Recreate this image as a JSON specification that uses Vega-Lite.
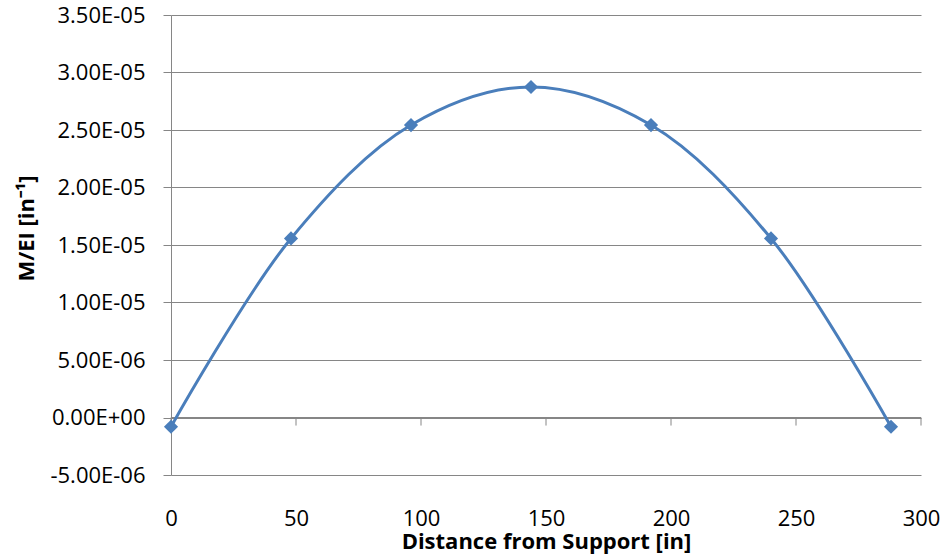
{
  "$schema": "https://vega.github.io/schema/vega-lite/v6.json",
  "width": 750,
  "height": 460,
  "autosize": {"type": "none"},
  "padding": {"left": 171, "top": 15, "right": 27, "bottom": 84},
  "background": "white",
  "config": {
    "view": {"stroke": null},
    "font": "Open Sans"
  },
  "data": {
    "values": [
      {"x": 0, "y": -0.0000008},
      {"x": 48, "y": 0.00001557},
      {"x": 96, "y": 0.00002543},
      {"x": 144, "y": 0.00002874},
      {"x": 192, "y": 0.00002543},
      {"x": 240, "y": 0.00001557},
      {"x": 288, "y": -0.0000008}
    ]
  },
  "layer": [
    {
      "data": {"values": [{"x": 0, "x2": 300, "y": 0}]},
      "mark": {"type": "rule", "color": "#868686", "strokeWidth": 1},
      "encoding": {
        "x": {"field": "x", "type": "quantitative"},
        "x2": {"field": "x2"},
        "y": {"field": "y", "type": "quantitative"}
      }
    },
    {
      "data": {"values": [
        {"x": 0, "y": 0, "y2": -0.0000007},
        {"x": 50, "y": 0, "y2": -0.0000007},
        {"x": 100, "y": 0, "y2": -0.0000007},
        {"x": 150, "y": 0, "y2": -0.0000007},
        {"x": 200, "y": 0, "y2": -0.0000007},
        {"x": 250, "y": 0, "y2": -0.0000007},
        {"x": 300, "y": 0, "y2": -0.0000007}
      ]},
      "mark": {"type": "rule", "color": "#868686", "strokeWidth": 1},
      "encoding": {
        "x": {"field": "x", "type": "quantitative"},
        "y": {"field": "y", "type": "quantitative"},
        "y2": {"field": "y2"}
      }
    },
    {
      "mark": {"type": "line", "interpolate": "catmull-rom", "color": "#4a7ebb", "strokeWidth": 3},
      "encoding": {
        "x": {
          "field": "x", "type": "quantitative",
          "scale": {"domain": [0, 300], "nice": false},
          "axis": {
            "title": "Distance from Support [in]",
            "values": [0, 50, 100, 150, 200, 250, 300],
            "domain": false, "ticks": false, "grid": false,
            "labelFont": "Open Sans", "labelFontSize": 22, "labelColor": "#000000",
            "labelPadding": 33, "labelFlush": false,
            "titleFont": "Open Sans", "titleFontSize": 22, "titleFontWeight": "bold", "titleColor": "#000000",
            "titlePadding": 2
          }
        },
        "y": {
          "field": "y", "type": "quantitative",
          "scale": {"domain": [-0.000005, 0.000035], "nice": false, "zero": false},
          "axis": {
            "title": "M/EI [in⁻¹]",
            "values": [-0.000005, 0, 0.000005, 0.00001, 0.000015, 0.00002, 0.000025, 0.00003, 0.000035],
            "labelExpr": "replace(replace(replace(format(datum.value, '.2e'), 'e-', 'E-0'), 'e+', 'E+0'), '−', '-')",
            "grid": true, "gridColor": "#868686", "gridWidth": 1,
            "domain": true, "domainColor": "#868686", "domainWidth": 1,
            "ticks": true, "tickColor": "#868686", "tickSize": 8,
            "labelFont": "Open Sans", "labelFontSize": 22, "labelColor": "#000000",
            "labelPadding": 18,
            "titleFont": "Open Sans", "titleFontSize": 22, "titleFontWeight": "bold", "titleColor": "#000000",
            "titlePadding": 11,
            "titleY": 213
          }
        }
      }
    },
    {
      "mark": {"type": "point", "shape": "diamond", "filled": true, "color": "#4a7ebb", "size": 200, "opacity": 1},
      "encoding": {
        "x": {"field": "x", "type": "quantitative"},
        "y": {"field": "y", "type": "quantitative"}
      }
    }
  ]
}
